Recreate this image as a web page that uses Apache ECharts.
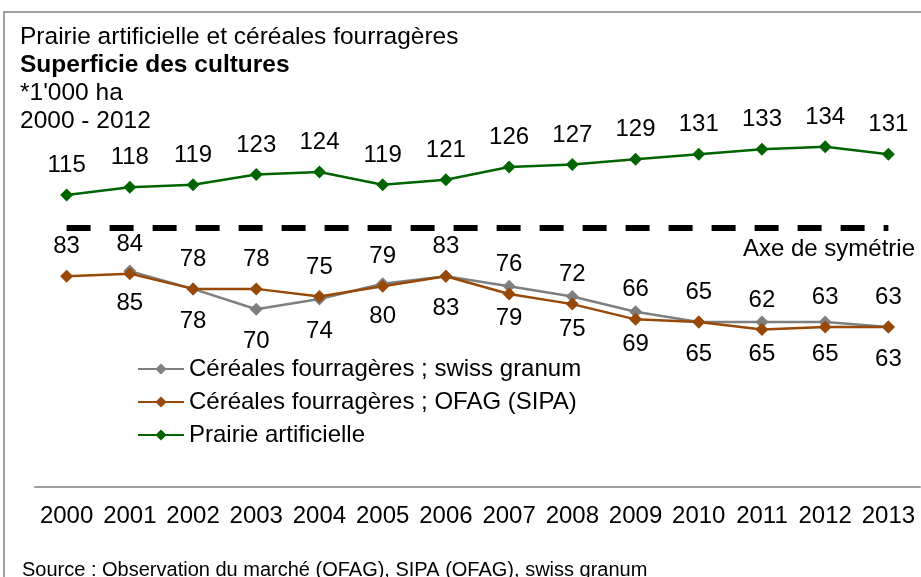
<!DOCTYPE html>
<html>
<head>
<meta charset="utf-8">
<script src="https://cdn.jsdelivr.net/npm/echarts@6/dist/echarts.min.js"></script>
<style>
html,body{margin:0;padding:0;background:#fff;}
#chart{width:921px;height:577px;}
</style>
</head>
<body>
<div id="chart"></div>
<script>
const years = ['2000','2001','2002','2003','2004','2005','2006','2007','2008','2009','2010','2011','2012','2013'];
const prairie = [115,118,119,123,124,119,121,126,127,129,131,133,134,131];
const ofag = [83,84,78,78,75,79,83,76,72,66,65,62,63,63];
const swissGranum = [null,85,78,70,74,80,83,79,75,69,65,65,65,63];
const symmetryValue = 102;

const titleLines = ['Prairie artificielle et céréales fourragères','Superficie des cultures',"*1'000 ha",'2000 - 2012'];
const sourceText = 'Source : Observation du marché (OFAG), SIPA (OFAG), swiss granum';

const FONT = '"Liberation Sans", Arial, sans-serif';
const chart = echarts.init(document.getElementById('chart'));

function lineSeries(name, data, color, labelPos, dist) {
  return {
    name: name,
    type: 'line',
    data: data,
    symbol: 'diamond',
    symbolSize: 13,
    connectNulls: false,
    lineStyle: {color: color, width: 2.5},
    itemStyle: {color: color},
    label: {show: true, position: labelPos, distance: dist, color: '#000', fontSize: 24, fontFamily: FONT, lineHeight: 24},
    emphasis: {disabled: true},
    animation: false
  };
}

const series = [
  lineSeries('Céréales fourragères ; swiss granum', swissGranum, '#7f7f7f', 'bottom', 14),
  lineSeries('Céréales fourragères ; OFAG (SIPA)', ofag, '#984807', 'top', 11),
  lineSeries('Prairie artificielle', prairie, '#006400', 'top', 11)
];
series[2].markLine = {
  silent: true,
  symbol: 'none',
  animation: false,
  label: {show: false},
  lineStyle: {color: '#000', width: 6, type: [24, 19]},
  data: [[{coord: [years[0], symmetryValue]}, {coord: [years[years.length-1], symmetryValue]}]]
};

const graphics = [
  {type: 'rect', shape: {x: 4, y: 12, width: 940, height: 600}, style: {fill: 'none', stroke: '#a0a0a0', lineWidth: 2}, silent: true}
];
titleLines.forEach((t, i) => {
  graphics.push({type: 'text', x: 20, y: 37 + i * 28, style: {text: t, fill: '#000', font: (i === 1 ? 'bold ' : '') + '24.5px ' + FONT, textVerticalAlign: 'middle'}});
});
graphics.push({type: 'text', x: 915, y: 249, style: {text: 'Axe de symétrie', fill: '#000', font: '24px ' + FONT, textAlign: 'right', textVerticalAlign: 'middle'}});
graphics.push({type: 'text', x: 22, y: 570, style: {text: sourceText, fill: '#000', font: '20px ' + FONT, textVerticalAlign: 'middle'}});

chart.setOption({
  animation: false,
  backgroundColor: '#fff',
  grid: {left: 35, right: 1, top: 106, bottom: 90, containLabel: false},
  xAxis: {
    type: 'category',
    data: years,
    boundaryGap: true,
    axisLine: {lineStyle: {color: '#a0a0a0', width: 2}},
    axisTick: {show: false},
    axisLabel: {interval: 0, color: '#000', fontSize: 24, fontFamily: FONT, margin: 17}
  },
  yAxis: {type: 'value', min: 0, max: 150, show: false, splitLine: {show: false}},
  legend: {
    orient: 'vertical',
    left: 137,
    top: 357,
    padding: 0,
    itemWidth: 46,
    itemHeight: 14,
    itemGap: 9,
    textStyle: {color: '#000', fontSize: 24, fontFamily: FONT, lineHeight: 24},
    data: series.map(s => s.name)
  },
  series: series,
  graphic: graphics
});
</script>
</body>
</html>
